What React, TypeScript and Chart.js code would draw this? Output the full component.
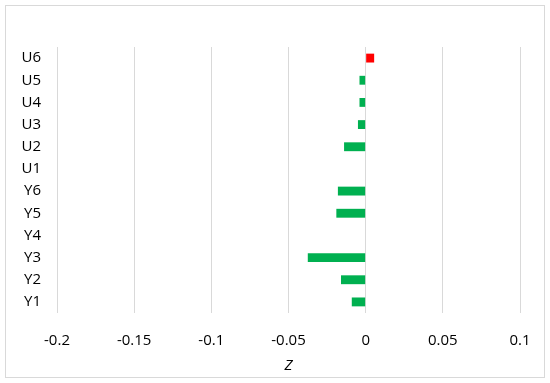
import React, { useEffect, useRef } from "react";
import { Chart, registerables } from "chart.js";

Chart.register(...registerables);

const categories = ["Y1", "Y2", "Y3", "Y4", "Y5", "Y6", "U1", "U2", "U3", "U4", "U5", "U6"];
const zValues = [-0.009, -0.016, -0.0375, 0, -0.019, -0.018, 0, -0.014, -0.005, -0.004, -0.004, 0.0055];
const xTickValues = [-0.2, -0.15, -0.1, -0.05, 0, 0.05, 0.1];
const axisTitle = "Z";

const POS_COLOR = "#FF0000";
const NEG_COLOR = "#00B050";
const FONT = "'Open Sans', 'Liberation Sans', sans-serif";

export default function App() {
  const ref = useRef<HTMLCanvasElement | null>(null);

  useEffect(() => {
    if (!ref.current) return;
    const chart = new Chart(ref.current, {
      type: "bar",
      data: {
        labels: categories,
        datasets: [
          {
            data: zValues,
            backgroundColor: zValues.map((v) => (v > 0 ? POS_COLOR : NEG_COLOR)),
            borderWidth: 0,
            barPercentage: 0.4,
            categoryPercentage: 1,
          },
        ],
      },
      options: {
        indexAxis: "y",
        responsive: false,
        animation: false,
        layout: { padding: { left: 0, right: 30, top: 47, bottom: 0 } },
        plugins: { legend: { display: false }, tooltip: { enabled: false } },
        scales: {
          x: {
            type: "linear",
            min: -0.2,
            max: 0.1,
            afterBuildTicks: (scale: any) => {
              scale.ticks = xTickValues.map((v) => ({ value: v }));
            },
            afterFit: (scale: any) => {
              scale.height = 70;
            },
            grid: { color: "#d9d9d9", drawTicks: false, lineWidth: 1 },
            border: { display: false },
            ticks: {
              padding: 19,
              color: "#000000",
              font: { family: FONT, size: 15 },
              callback: (v: any) => String(Number(Number(v).toFixed(4))),
            },
            title: {
              display: true,
              text: axisTitle,
              color: "#000000",
              font: { family: FONT, size: 15, style: "italic" },
              padding: { top: 0, bottom: 8 },
            },
          },
          y: {
            reverse: true,
            afterFit: (scale: any) => {
              scale.width = 57;
            },
            grid: { display: false, drawTicks: false },
            border: { display: false },
            ticks: {
              padding: 16,
              color: "#000000",
              font: { family: FONT, size: 15 },
            },
          },
        },
      },
    });
    return () => chart.destroy();
  }, []);

  return (
    <div style={{ position: "fixed", left: 0, top: 0, width: 550, height: 383, background: "#fff" }}>
      <div
        style={{
          position: "absolute",
          left: 5,
          top: 5,
          width: 540,
          height: 373,
          border: "1px solid #d9d9d9",
          boxSizing: "border-box",
        }}
      />
      <canvas ref={ref} width={550} height={383} style={{ position: "absolute", left: 0, top: 0 }} />
    </div>
  );
}
